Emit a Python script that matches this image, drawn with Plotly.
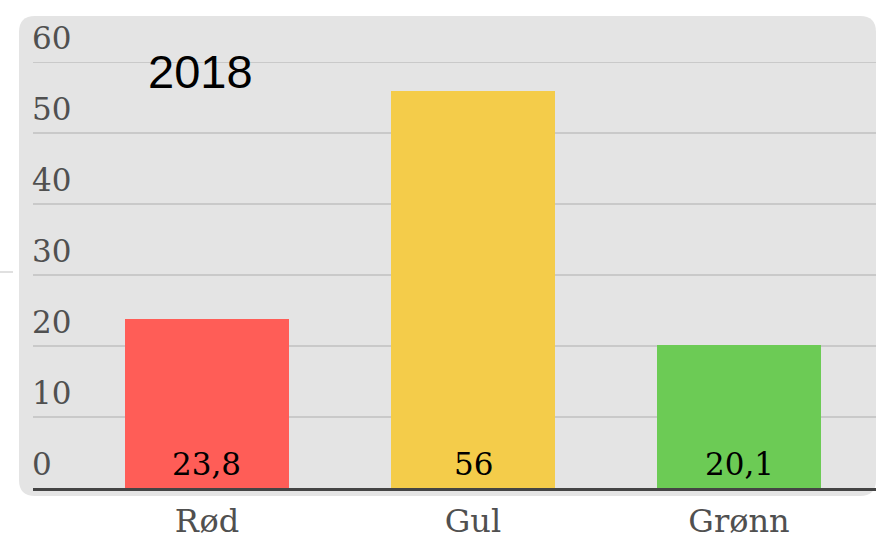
import plotly.graph_objects as go

categories = ["Rød", "Gul", "Grønn"]
values = [23.8, 56, 20.1]
bar_colors = ["#ff5d57", "#f4cc4a", "#6ccb55"]
y_ticks = [0, 10, 20, 30, 40, 50, 60]
title_text = "2018"

W, H = 876, 540
L, R, T, B = 33, 0, 16, 52
PW, PH = W - L - R, H - T - B

def px(x):
    return (x - L) / PW

def py(y):
    return (H - B - y) / PH

def rounded_rect(x0, y0, x1, y1, r):
    pts = [
        f"M {px(x0 + r)},{py(y0)}",
        f"L {px(x1 - r)},{py(y0)}",
        f"Q {px(x1)},{py(y0)} {px(x1)},{py(y0 + r)}",
        f"L {px(x1)},{py(y1 - r)}",
        f"Q {px(x1)},{py(y1)} {px(x1 - r)},{py(y1)}",
        f"L {px(x0 + r)},{py(y1)}",
        f"Q {px(x0)},{py(y1)} {px(x0)},{py(y1 - r)}",
        f"L {px(x0)},{py(y0 + r)}",
        f"Q {px(x0)},{py(y0)} {px(x0 + r)},{py(y0)}",
        "Z",
    ]
    return " ".join(pts)

serif = "DejaVu Serif"

fig = go.Figure(
    go.Bar(
        x=categories,
        y=values,
        marker=dict(color=bar_colors, line=dict(width=0)),
        width=0.6165,
        hoverinfo="skip",
    )
)

value_labels = [dict(
    x=c, y=0, xref="x", yref="y",
    text=f"{v:g}".replace(".", ","),
    xanchor="center", yanchor="bottom", yshift=4,
    showarrow=False,
    font=dict(family=serif, size=31, color="#000000"),
) for c, v in zip(categories, values)]

tick_labels = [dict(
    x=0, y=t, xref="paper", yref="y",
    text=str(t),
    xanchor="left", yanchor="bottom", xshift=-3, yshift=4,
    showarrow=False,
    font=dict(family=serif, size=31, color="#505050"),
) for t in y_ticks]

fig.update_layout(
    width=W,
    height=H,
    margin=dict(l=L, r=R, t=T, b=B, pad=0),
    paper_bgcolor="#ffffff",
    plot_bgcolor="rgba(0,0,0,0)",
    showlegend=False,
    bargap=0,
    xaxis=dict(
        range=[-0.6541, 2.5150],
        showgrid=False,
        showline=True,
        linecolor="#444444",
        linewidth=2.5,
        ticks="",
        ticklabelstandoff=3,
        tickfont=dict(family=serif, size=32, color="#505050"),
        fixedrange=True,
    ),
    yaxis=dict(
        range=[0, 66.52],
        tickvals=y_ticks,
        showticklabels=False,
        showgrid=True,
        gridcolor="#c9c9c9",
        gridwidth=1.5,
        zeroline=False,
        showline=False,
        ticks="",
        fixedrange=True,
    ),
    shapes=[
        dict(
            type="path",
            xref="paper",
            yref="paper",
            path=rounded_rect(19, 16, 876, 496, 16),
            fillcolor="#e4e4e4",
            line=dict(width=0),
            layer="below",
        ),
        dict(
            type="line",
            xref="paper",
            yref="paper",
            x0=px(0), x1=px(13), y0=py(272), y1=py(272),
            line=dict(color="#d6d6d6", width=1.5),
            layer="below",
        ),
    ],
    annotations=value_labels + tick_labels + [
        dict(
            text=title_text,
            xref="paper",
            yref="paper",
            x=px(200),
            y=py(71),
            xanchor="center",
            yanchor="middle",
            showarrow=False,
            font=dict(family="Liberation Sans", size=47, color="#000000"),
        )
    ],
)

fig.write_html(
    "out.html",
    config={"displayModeBar": False, "staticPlot": True},
    post_script="document.body.style.margin='0';document.body.style.overflow='hidden';",
)
